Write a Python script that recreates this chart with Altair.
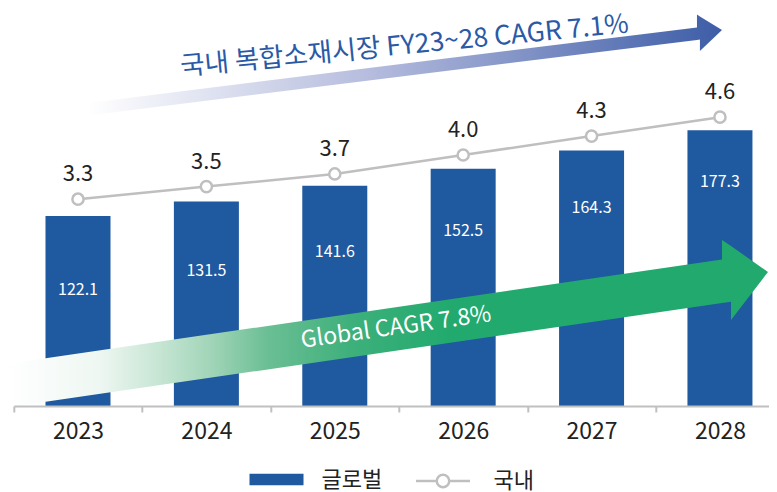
import altair as alt
import pandas as pd

# ---- data ----
years = [2023, 2024, 2025, 2026, 2027, 2028]
global_market = [122.1, 131.5, 141.6, 152.5, 164.3, 177.3]
domestic_market = [3.3, 3.5, 3.7, 4.0, 4.3, 4.6]
series_names = ["글로벌", "국내"]
year_boundaries = [2022.5, 2023.5, 2024.5, 2025.5, 2026.5, 2027.5]

domestic_title = "국내 복합소재시장 FY23~28 CAGR 7.1%"
global_title = "Global CAGR 7.8%"

# annotation arrows (x in years, y in global-market units)
green_arrow_x = [2022.455, 2028.016, 2028.016, 2028.086, 2028.086, 2028.374]
green_arrow_top = [27.14, 94.15, 106.75, 102.83, 102.83, 86.17]
green_arrow_bottom = [-0.84, 66.17, 66.17, 67.01, 55.31, 86.17]

blue_arrow_x = [2023.078, 2027.821, 2027.821, 2027.844, 2027.844, 2028.016]
blue_arrow_top = [194.86, 243.41, 251.70, 250.48, 250.48, 241.80]
blue_arrow_bottom = [186.82, 235.37, 235.37, 235.63, 228.30, 241.80]

title_anchor_x = [2025.543]
title_anchor_y = [231.5]
global_anchor_x = [2025.477]
global_anchor_y = [50.5]

# ---- styles ----
FONT = "Noto Sans CJK KR"
BLUE = "#1F599F"
GRAY = "#BFBFBF"
TEXT = "#222222"

X_DOMAIN = [2022.5, 2028.382]
BAR_DOMAIN = [0, 255.9]
LINE_DOMAIN = [0.023, 6.330]

xs = alt.Scale(domain=X_DOMAIN, nice=False, zero=False, padding=0)
ybar = alt.Scale(domain=BAR_DOMAIN, nice=False, zero=False, padding=0)
yline = alt.Scale(domain=LINE_DOMAIN, nice=False, zero=False, padding=0)

df = pd.DataFrame({
    "year": years,
    "global": global_market,
    "domestic": domestic_market,
    "s_global": [series_names[0]] * len(years),
    "s_dom": [series_names[1]] * len(years),
})

gdf = pd.DataFrame({"ax": green_arrow_x, "atop": green_arrow_top,
                    "abot": green_arrow_bottom})
bdf = pd.DataFrame({"ax": blue_arrow_x, "atop": blue_arrow_top,
                    "abot": blue_arrow_bottom})
tdf = pd.DataFrame({"tx": title_anchor_x, "ty": title_anchor_y, "t": [domestic_title]})
gtdf = pd.DataFrame({"tx": global_anchor_x, "ty": global_anchor_y, "t": [global_title]})

green_gradient = alt.LinearGradient(
    gradient="linear", x1=0, x2=1, y1=0, y2=0,
    stops=[
        alt.GradientStop(offset=0, color="#ffffff"),
        alt.GradientStop(offset=0.12, color="#eef7f2"),
        alt.GradientStop(offset=0.2, color="#c6e5d3"),
        alt.GradientStop(offset=0.27, color="#9fd4b7"),
        alt.GradientStop(offset=0.34, color="#6cbf95"),
        alt.GradientStop(offset=0.45, color="#3eb07c"),
        alt.GradientStop(offset=0.58, color="#22aa6e"),
        alt.GradientStop(offset=1, color="#22aa6e"),
    ],
)
blue_gradient = alt.LinearGradient(
    gradient="linear", x1=0, x2=1, y1=0, y2=0,
    stops=[
        alt.GradientStop(offset=0, color="#ffffff"),
        alt.GradientStop(offset=0.45, color="#b4bbdd"),
        alt.GradientStop(offset=1, color="#3d5da7"),
    ],
)

x_axis = alt.Axis(
    values=year_boundaries,
    labelExpr="format(datum.value + 0.5, 'd')",
    labelOffset=64.2,
    labelFlush=False,
    labelOverlap=False,
    labelFontSize=23,
    labelColor=TEXT,
    labelPadding=8,
    domainColor="#c0c0c0",
    domainWidth=2,
    tickColor="#c0c0c0",
    tickWidth=2,
    tickSize=6,
    grid=False,
    title=None,
    zindex=1,
)

blue_arrow = alt.Chart(bdf).mark_area(
    color=blue_gradient, opacity=1, interpolate="linear", orient="vertical"
).encode(
    x=alt.X("ax:Q", scale=xs, axis=x_axis),
    y=alt.Y("atop:Q", scale=ybar, axis=None),
    y2="abot:Q",
)

blue_text = alt.Chart(tdf).mark_text(
    angle=354.5, fontSize=26.5, color="#2A5AA6", align="center", baseline="middle"
).encode(
    x=alt.X("tx:Q", scale=xs, axis=x_axis),
    y=alt.Y("ty:Q", scale=ybar, axis=None),
    text="t:N",
)

bars = alt.Chart(df).mark_bar(size=65).encode(
    x=alt.X("year:Q", scale=xs, axis=x_axis),
    y=alt.Y("global:Q", scale=ybar, axis=None),
    color=alt.Color(
        "s_global:N",
        scale=alt.Scale(domain=[series_names[0]], range=[BLUE]),
        legend=alt.Legend(
            orient="none", legendX=235.7, legendY=444.5, title=None,
            symbolType="M-1,-0.21L1,-0.21L1,0.21L-1,0.21Z", symbolSize=2916,
            symbolStrokeWidth=0, labelFontSize=22, labelColor=TEXT,
            labelOffset=18, padding=0,
        ),
    ),
)

green_arrow = alt.Chart(gdf).mark_area(
    color=green_gradient, opacity=1, interpolate="linear", orient="vertical"
).encode(
    x=alt.X("ax:Q", scale=xs, axis=x_axis),
    y=alt.Y("atop:Q", scale=ybar, axis=None),
    y2="abot:Q",
)

green_text = alt.Chart(gtdf).mark_text(
    angle=352, fontSize=23, color="white", align="center", baseline="middle"
).encode(
    x=alt.X("tx:Q", scale=xs, axis=x_axis),
    y=alt.Y("ty:Q", scale=ybar, axis=None),
    text="t:N",
)

bar_labels = alt.Chart(df).mark_text(
    color="white", fontSize=16, baseline="alphabetic", dy=6
).transform_calculate(
    lab="datum.global * 1.252 - 77.5"
).encode(
    x=alt.X("year:Q", scale=xs, axis=x_axis),
    y=alt.Y("lab:Q", scale=ybar, axis=None),
    text=alt.Text("global:Q", format=".1f"),
)

line = alt.Chart(df).mark_line(strokeWidth=2.5).encode(
    x=alt.X("year:Q", scale=xs, axis=x_axis),
    y=alt.Y("domestic:Q", scale=yline, axis=None),
    stroke=alt.Stroke(
        "s_dom:N",
        scale=alt.Scale(domain=[series_names[1]], range=[GRAY]),
        legend=alt.Legend(
            orient="none", legendX=400.7, legendY=444.5, title=None,
            symbolType="M-1,0L-0.23,0M0.23,0L1,0M0.23,0A0.23,0.23,0,1,1,-0.23,0A0.23,0.23,0,1,1,0.23,0Z",
            symbolSize=2916, symbolStrokeWidth=2.5, symbolFillColor="white",
            symbolStrokeColor=GRAY, labelFontSize=22, labelColor=TEXT,
            labelOffset=22, padding=0,
        ),
    ),
)

points = alt.Chart(df).mark_point(
    shape="circle", size=125, filled=True, fill="white", stroke=GRAY,
    strokeWidth=2.5, opacity=1
).encode(
    x=alt.X("year:Q", scale=xs, axis=x_axis),
    y=alt.Y("domestic:Q", scale=yline, axis=None),
)

line_labels = alt.Chart(df).mark_text(
    fontSize=22, color=TEXT, baseline="alphabetic", dy=-18
).encode(
    x=alt.X("year:Q", scale=xs, axis=x_axis),
    y=alt.Y("domestic:Q", scale=yline, axis=None),
    text=alt.Text("domestic:Q", format=".1f"),
)

chart = alt.layer(
    blue_arrow, blue_text, bars, green_arrow, green_text,
    bar_labels, line, points, line_labels
).resolve_scale(
    y="independent"
).properties(
    width=755.2,
    height=398,
    autosize=alt.AutoSizeParams(type="none"),
    padding={"left": 5.8, "top": 0, "right": 0, "bottom": 86},
).configure_view(
    stroke=None
).configure_text(
    font=FONT
).configure_axis(
    labelFont=FONT
).configure_legend(
    labelFont=FONT
)

chart.save("out.html", embed_options={"renderer": "svg", "actions": False})
